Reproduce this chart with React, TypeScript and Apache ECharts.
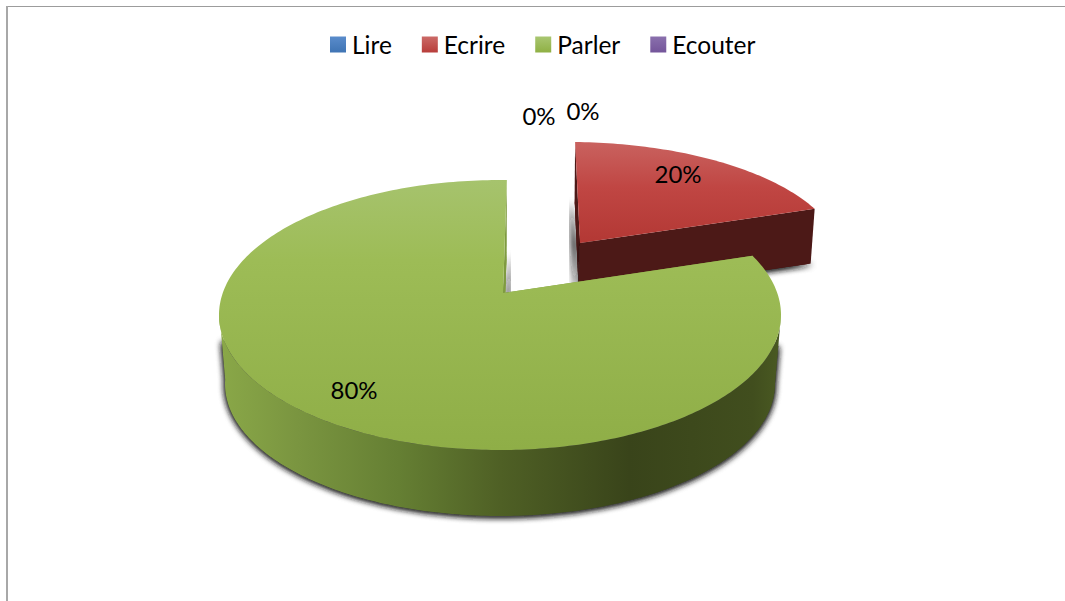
import React, { useEffect, useRef } from "react";
import * as echarts from "echarts";

const categories = ["Lire", "Ecrire", "Parler", "Ecouter"];
const values = [0, 20, 80, 0];

const FONT = "Lato, 'Open Sans', sans-serif";
const total = values.reduce((a, b) => a + b, 0);

const vGrad = (stops: [number, string][]) =>
  new echarts.graphic.LinearGradient(0, 0, 0, 1, stops.map(([offset, color]) => ({ offset, color })));
const hGrad = (stops: [number, string][]) =>
  new echarts.graphic.LinearGradient(0, 0, 1, 0, stops.map(([offset, color]) => ({ offset, color })));

const legendColors = [
  vGrad([[0, "#5a8ccb"], [1, "#3f74b4"]]),
  vGrad([[0, "#cb6a67"], [1, "#b83d3a"]]),
  vGrad([[0, "#a9c671"], [1, "#8fb044"]]),
  vGrad([[0, "#8a70ad"], [1, "#74559a"]]),
];

type Pt = [number, number];
type Ell = { cx: number; cy: number; rx: number; ry: number };
type Place = {
  top?: Ell;
  bottom?: Ell;
  apex?: Pt;
  apexBottom?: Pt;
  face?: any;
  rim?: any;
  startFill?: string;
  endFill?: string;
  startDx?: number;
  endDx?: number;
  label: Pt;
};

// Perspective view of each slice (layout only, the sweep comes from values)
const places: Place[] = [
  { label: [583, 110] },
  {
    top: { cx: 568.4, cy: 261, rx: 274, ry: 119 },
    bottom: { cx: 568, cy: 314, rx: 270, ry: 115 },
    apex: [580, 243],
    apexBottom: [579, 297],
    face: vGrad([[0, "#c9625f"], [0.45, "#c04643"], [1, "#b33834"]]),
    rim: "#4c1917",
    startFill: "#4c1917",
    endFill: "#4c1917",
    startDx: -4,
    endDx: 2,
    label: [678, 173],
  },
  {
    top: { cx: 500, cy: 315, rx: 281, ry: 135 },
    bottom: { cx: 500, cy: 384, rx: 275, ry: 132 },
    apex: [503, 293],
    apexBottom: [505, 300],
    face: vGrad([[0, "#a6c36d"], [0.3, "#9dbc56"], [1, "#8fae47"]]),
    rim: hGrad([
      [0, "#8aa848"],
      [0.14, "#7a9540"],
      [0.32, "#657f33"],
      [0.5, "#4f6025"],
      [0.73, "#39441a"],
      [0.95, "#414e1e"],
      [1, "#4a5a22"],
    ]),
    startFill: "#7f9b40",
    endFill: "#7f9b40",
    startDx: 0,
    endDx: 4,
    label: [354, 389],
  },
  { label: [539, 115] },
];

const warp = (deg: number) => deg + 1.4 - 16 * Math.sin((2 * deg * Math.PI) / 180);
const onEll = (e: Ell, t: number): Pt => {
  const r = (t * Math.PI) / 180;
  return [e.cx + e.rx * Math.sin(r), e.cy - e.ry * Math.cos(r)];
};
const arc = (e: Ell, from: number, to: number) => {
  const pts: Pt[] = [];
  const n = Math.max(2, Math.ceil(Math.abs(to - from)));
  for (let i = 0; i <= n; i++) pts.push(onEll(e, from + ((to - from) * i) / n));
  return pts;
};
const lerp = (a: Pt, b: Pt, k: number): Pt => [a[0] + (b[0] - a[0]) * k, a[1] + (b[1] - a[1]) * k];

const shadow = (x: number, y: number) => ({
  shadowBlur: 6,
  shadowColor: "#1c1c1c",
  shadowOffsetX: x,
  shadowOffsetY: y,
});

const renderSlice = (index: number) => (_params: any, api: any) => {
  const value = api.value(0) as number;
  const place = places[index];
  const before = values.slice(0, index).reduce((a, b) => a + b, 0);
  const children: any[] = [];
  if (value > 0 && place.top && place.bottom && place.apex && place.apexBottom) {
    const t0 = warp((before / total) * 360);
    const t1 = warp(((before + value) / total) * 360);
    const { top, bottom, apex, apexBottom } = place;
    const poly = (points: Pt[], fill: any, sh: object) => ({
      type: "polygon",
      shape: { points },
      style: { fill, ...sh },
    });
    // Cut faces: a shadow-casting lower part, then the clean face above it
    const cutFace = (t: number, fill: any, dx: number) => {
      if (dx) {
        const caster = poly([onEll(bottom, t), apexBottom, apex], fill, shadow(dx, 1));
        children.push(caster, caster);
      }
      children.push(poly([onEll(top, t), onEll(bottom, t), apexBottom, apex], fill, {}));
    };
    cutFace(t0, place.startFill, place.startDx || 0);
    cutFace(t1, place.endFill, place.endDx || 0);
    const visFrom = Math.max(t0, 90);
    const visTo = Math.min(t1, 272);
    if (visTo > visFrom) {
      const caster = poly(
        [
          lerp(onEll(top, visFrom), onEll(bottom, visFrom), 0.45),
          ...arc(bottom, visFrom, visTo),
          lerp(onEll(top, visTo), onEll(bottom, visTo), 0.45),
        ],
        "#444",
        shadow(0, 1)
      );
      children.push(caster, caster);
      children.push(poly([...arc(top, visFrom, visTo), ...arc(bottom, visTo, visFrom)], place.rim, {}));
    }
    children.push(poly([apex, ...arc(top, t0, t1)], place.face, {}));
  }
  children.push({
    type: "text",
    x: place.label[0],
    y: place.label[1],
    z2: 10,
    style: {
      text: `${Math.round((value / total) * 100)}%`,
      fill: "#000",
      font: `24px ${FONT}`,
      align: "center",
      verticalAlign: "middle",
    },
  });
  return { type: "group", children };
};

export default function App() {
  const ref = useRef<HTMLDivElement>(null);
  useEffect(() => {
    const chart = echarts.init(ref.current!, undefined, { renderer: "svg" });
    chart.setOption({
      animation: false,
      backgroundColor: "#fff",
      legend: {
        data: categories,
        left: 325,
        top: 27,
        icon: "rect",
        itemWidth: 16,
        itemHeight: 16,
        itemGap: 30,
        selectedMode: false,
        textStyle: { fontFamily: FONT, fontSize: 24.5, color: "#000", padding: [0, 0, 0, 1] },
      },
      graphic: [
        { type: "line", shape: { x1: 6, y1: 6.5, x2: 1065, y2: 6.5 }, style: { stroke: "#9c9c9c", lineWidth: 1 } },
        { type: "line", shape: { x1: 7, y1: 6, x2: 7, y2: 601 }, style: { stroke: "#a8a8a8", lineWidth: 2 } },
      ],
      series: categories.map((name, i) => ({
        name,
        type: "custom",
        coordinateSystem: "none",
        itemStyle: { color: legendColors[i] },
        data: [[values[i]]],
        renderItem: renderSlice(i),
        silent: true,
      })),
    });
    return () => chart.dispose();
  }, []);
  return <div ref={ref} style={{ position: "fixed", left: 0, top: 0, width: 1065, height: 601 }} />;
}
